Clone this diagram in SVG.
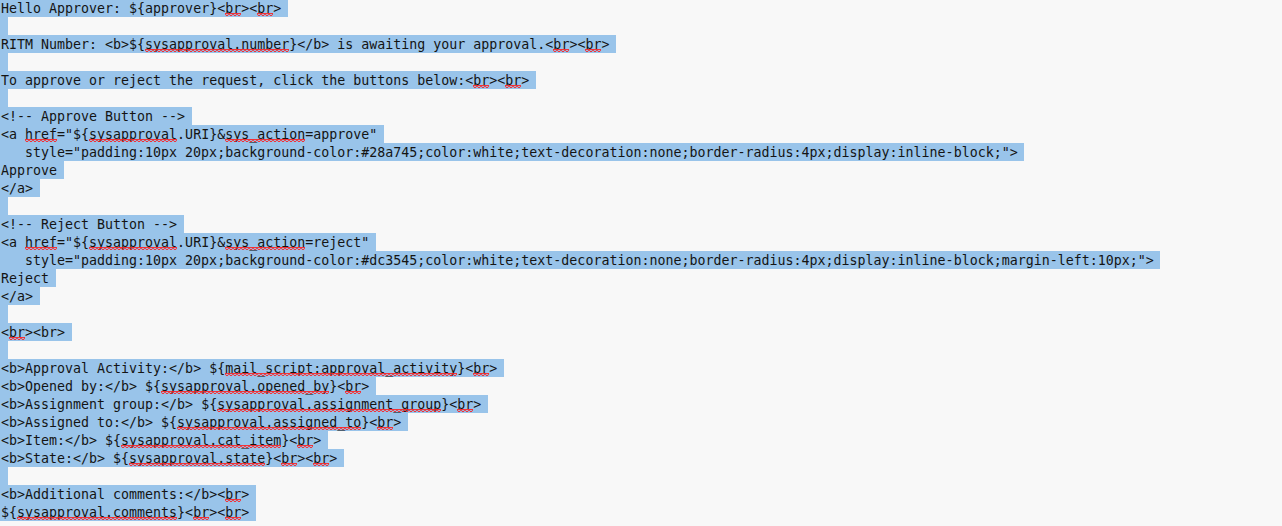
<svg xmlns="http://www.w3.org/2000/svg" width="1282" height="526" viewBox="0 0 1282 526">
<style>
.bg{fill:#f8f8f8}
.sel{fill:#99c4ea}
.t{font-family:"DejaVu Sans Mono","Liberation Mono",monospace;font-size:13.3px;fill:#141414}
.sq{fill:url(#squig)}
</style>
<defs>
<pattern id="squig" x="1" y="0" width="4" height="3" patternUnits="userSpaceOnUse">
<path d="M0,2.5 L2,0.5 L4,2.5" fill="none" stroke="#ff1a1a" stroke-width="1.3"/>
</pattern>
</defs>
<rect class="bg" x="0" y="0" width="1282" height="526"/>
<g id="selection">
<rect class="sel" x="0" y="0" width="288" height="17"/>
<rect class="sel" x="0" y="17" width="8" height="18"/>
<rect class="sel" x="0" y="35" width="616" height="18"/>
<rect class="sel" x="0" y="53" width="8" height="18"/>
<rect class="sel" x="0" y="71" width="536" height="18"/>
<rect class="sel" x="0" y="89" width="8" height="18"/>
<rect class="sel" x="0" y="107" width="192" height="18"/>
<rect class="sel" x="0" y="125" width="384" height="18"/>
<rect class="sel" x="0" y="143" width="1024" height="18"/>
<rect class="sel" x="0" y="161" width="64" height="18"/>
<rect class="sel" x="0" y="179" width="40" height="18"/>
<rect class="sel" x="0" y="197" width="8" height="18"/>
<rect class="sel" x="0" y="215" width="184" height="18"/>
<rect class="sel" x="0" y="233" width="376" height="18"/>
<rect class="sel" x="0" y="251" width="1160" height="18"/>
<rect class="sel" x="0" y="269" width="56" height="18"/>
<rect class="sel" x="0" y="287" width="40" height="18"/>
<rect class="sel" x="0" y="305" width="8" height="18"/>
<rect class="sel" x="0" y="323" width="72" height="18"/>
<rect class="sel" x="0" y="341" width="8" height="18"/>
<rect class="sel" x="0" y="359" width="504" height="18"/>
<rect class="sel" x="0" y="377" width="376" height="18"/>
<rect class="sel" x="0" y="395" width="488" height="18"/>
<rect class="sel" x="0" y="413" width="408" height="18"/>
<rect class="sel" x="0" y="431" width="328" height="18"/>
<rect class="sel" x="0" y="449" width="344" height="18"/>
<rect class="sel" x="0" y="467" width="8" height="18"/>
<rect class="sel" x="0" y="485" width="256" height="18"/>
<rect class="sel" x="0" y="503" width="256" height="18"/>
</g>
<g id="text">
<text class="t" x="1" y="12.5">Hello Approver: ${approver}&lt;br&gt;&lt;br&gt;</text>
<text class="t" x="1" y="48.5">RITM Number: &lt;b&gt;${sysapproval.number}&lt;/b&gt; is awaiting your approval.&lt;br&gt;&lt;br&gt;</text>
<text class="t" x="1" y="84.5">To approve or reject the request, click the buttons below:&lt;br&gt;&lt;br&gt;</text>
<text class="t" x="1" y="120.5">&lt;!-- Approve Button --&gt;</text>
<text class="t" x="1" y="138.5">&lt;a href="${sysapproval.URI}&amp;sys_action=approve"</text>
<text class="t" x="25" y="156.5">style="padding:10px 20px;background-color:#28a745;color:white;text-decoration:none;border-radius:4px;display:inline-block;"&gt;</text>
<text class="t" x="1" y="174.5">Approve</text>
<text class="t" x="1" y="192.5">&lt;/a&gt;</text>
<text class="t" x="1" y="228.5">&lt;!-- Reject Button --&gt;</text>
<text class="t" x="1" y="246.5">&lt;a href="${sysapproval.URI}&amp;sys_action=reject"</text>
<text class="t" x="25" y="264.5">style="padding:10px 20px;background-color:#dc3545;color:white;text-decoration:none;border-radius:4px;display:inline-block;margin-left:10px;"&gt;</text>
<text class="t" x="1" y="282.5">Reject</text>
<text class="t" x="1" y="300.5">&lt;/a&gt;</text>
<text class="t" x="1" y="336.5">&lt;br&gt;&lt;br&gt;</text>
<text class="t" x="1" y="372.5">&lt;b&gt;Approval Activity:&lt;/b&gt; ${mail_script:approval_activity}&lt;br&gt;</text>
<text class="t" x="1" y="390.5">&lt;b&gt;Opened by:&lt;/b&gt; ${sysapproval.opened_by}&lt;br&gt;</text>
<text class="t" x="1" y="408.5">&lt;b&gt;Assignment group:&lt;/b&gt; ${sysapproval.assignment_group}&lt;br&gt;</text>
<text class="t" x="1" y="426.5">&lt;b&gt;Assigned to:&lt;/b&gt; ${sysapproval.assigned_to}&lt;br&gt;</text>
<text class="t" x="1" y="444.5">&lt;b&gt;Item:&lt;/b&gt; ${sysapproval.cat_item}&lt;br&gt;</text>
<text class="t" x="1" y="462.5">&lt;b&gt;State:&lt;/b&gt; ${sysapproval.state}&lt;br&gt;&lt;br&gt;</text>
<text class="t" x="1" y="498.5">&lt;b&gt;Additional comments:&lt;/b&gt;&lt;br&gt;</text>
<text class="t" x="1" y="516.5">${sysapproval.comments}&lt;br&gt;&lt;br&gt;</text>
</g>
<g id="squiggles">
<rect class="sq" x="225" y="13" width="16" height="3"/>
<rect class="sq" x="257" y="13" width="16" height="3"/>
<rect class="sq" x="145" y="49" width="144" height="3"/>
<rect class="sq" x="553" y="49" width="16" height="3"/>
<rect class="sq" x="585" y="49" width="16" height="3"/>
<rect class="sq" x="473" y="85" width="16" height="3"/>
<rect class="sq" x="505" y="85" width="16" height="3"/>
<rect class="sq" x="25" y="139" width="32" height="3"/>
<rect class="sq" x="89" y="139" width="88" height="3"/>
<rect class="sq" x="225" y="139" width="80" height="3"/>
<rect class="sq" x="25" y="247" width="32" height="3"/>
<rect class="sq" x="89" y="247" width="88" height="3"/>
<rect class="sq" x="225" y="247" width="80" height="3"/>
<rect class="sq" x="9" y="337" width="16" height="3"/>
<rect class="sq" x="225" y="373" width="232" height="3"/>
<rect class="sq" x="473" y="373" width="16" height="3"/>
<rect class="sq" x="161" y="391" width="168" height="3"/>
<rect class="sq" x="345" y="391" width="16" height="3"/>
<rect class="sq" x="217" y="409" width="224" height="3"/>
<rect class="sq" x="457" y="409" width="16" height="3"/>
<rect class="sq" x="177" y="427" width="184" height="3"/>
<rect class="sq" x="377" y="427" width="16" height="3"/>
<rect class="sq" x="121" y="445" width="160" height="3"/>
<rect class="sq" x="297" y="445" width="16" height="3"/>
<rect class="sq" x="129" y="463" width="136" height="3"/>
<rect class="sq" x="281" y="463" width="16" height="3"/>
<rect class="sq" x="313" y="463" width="16" height="3"/>
<rect class="sq" x="225" y="499" width="16" height="3"/>
<rect class="sq" x="17" y="517" width="160" height="3"/>
<rect class="sq" x="193" y="517" width="16" height="3"/>
<rect class="sq" x="225" y="517" width="16" height="3"/>
</g>
</svg>
